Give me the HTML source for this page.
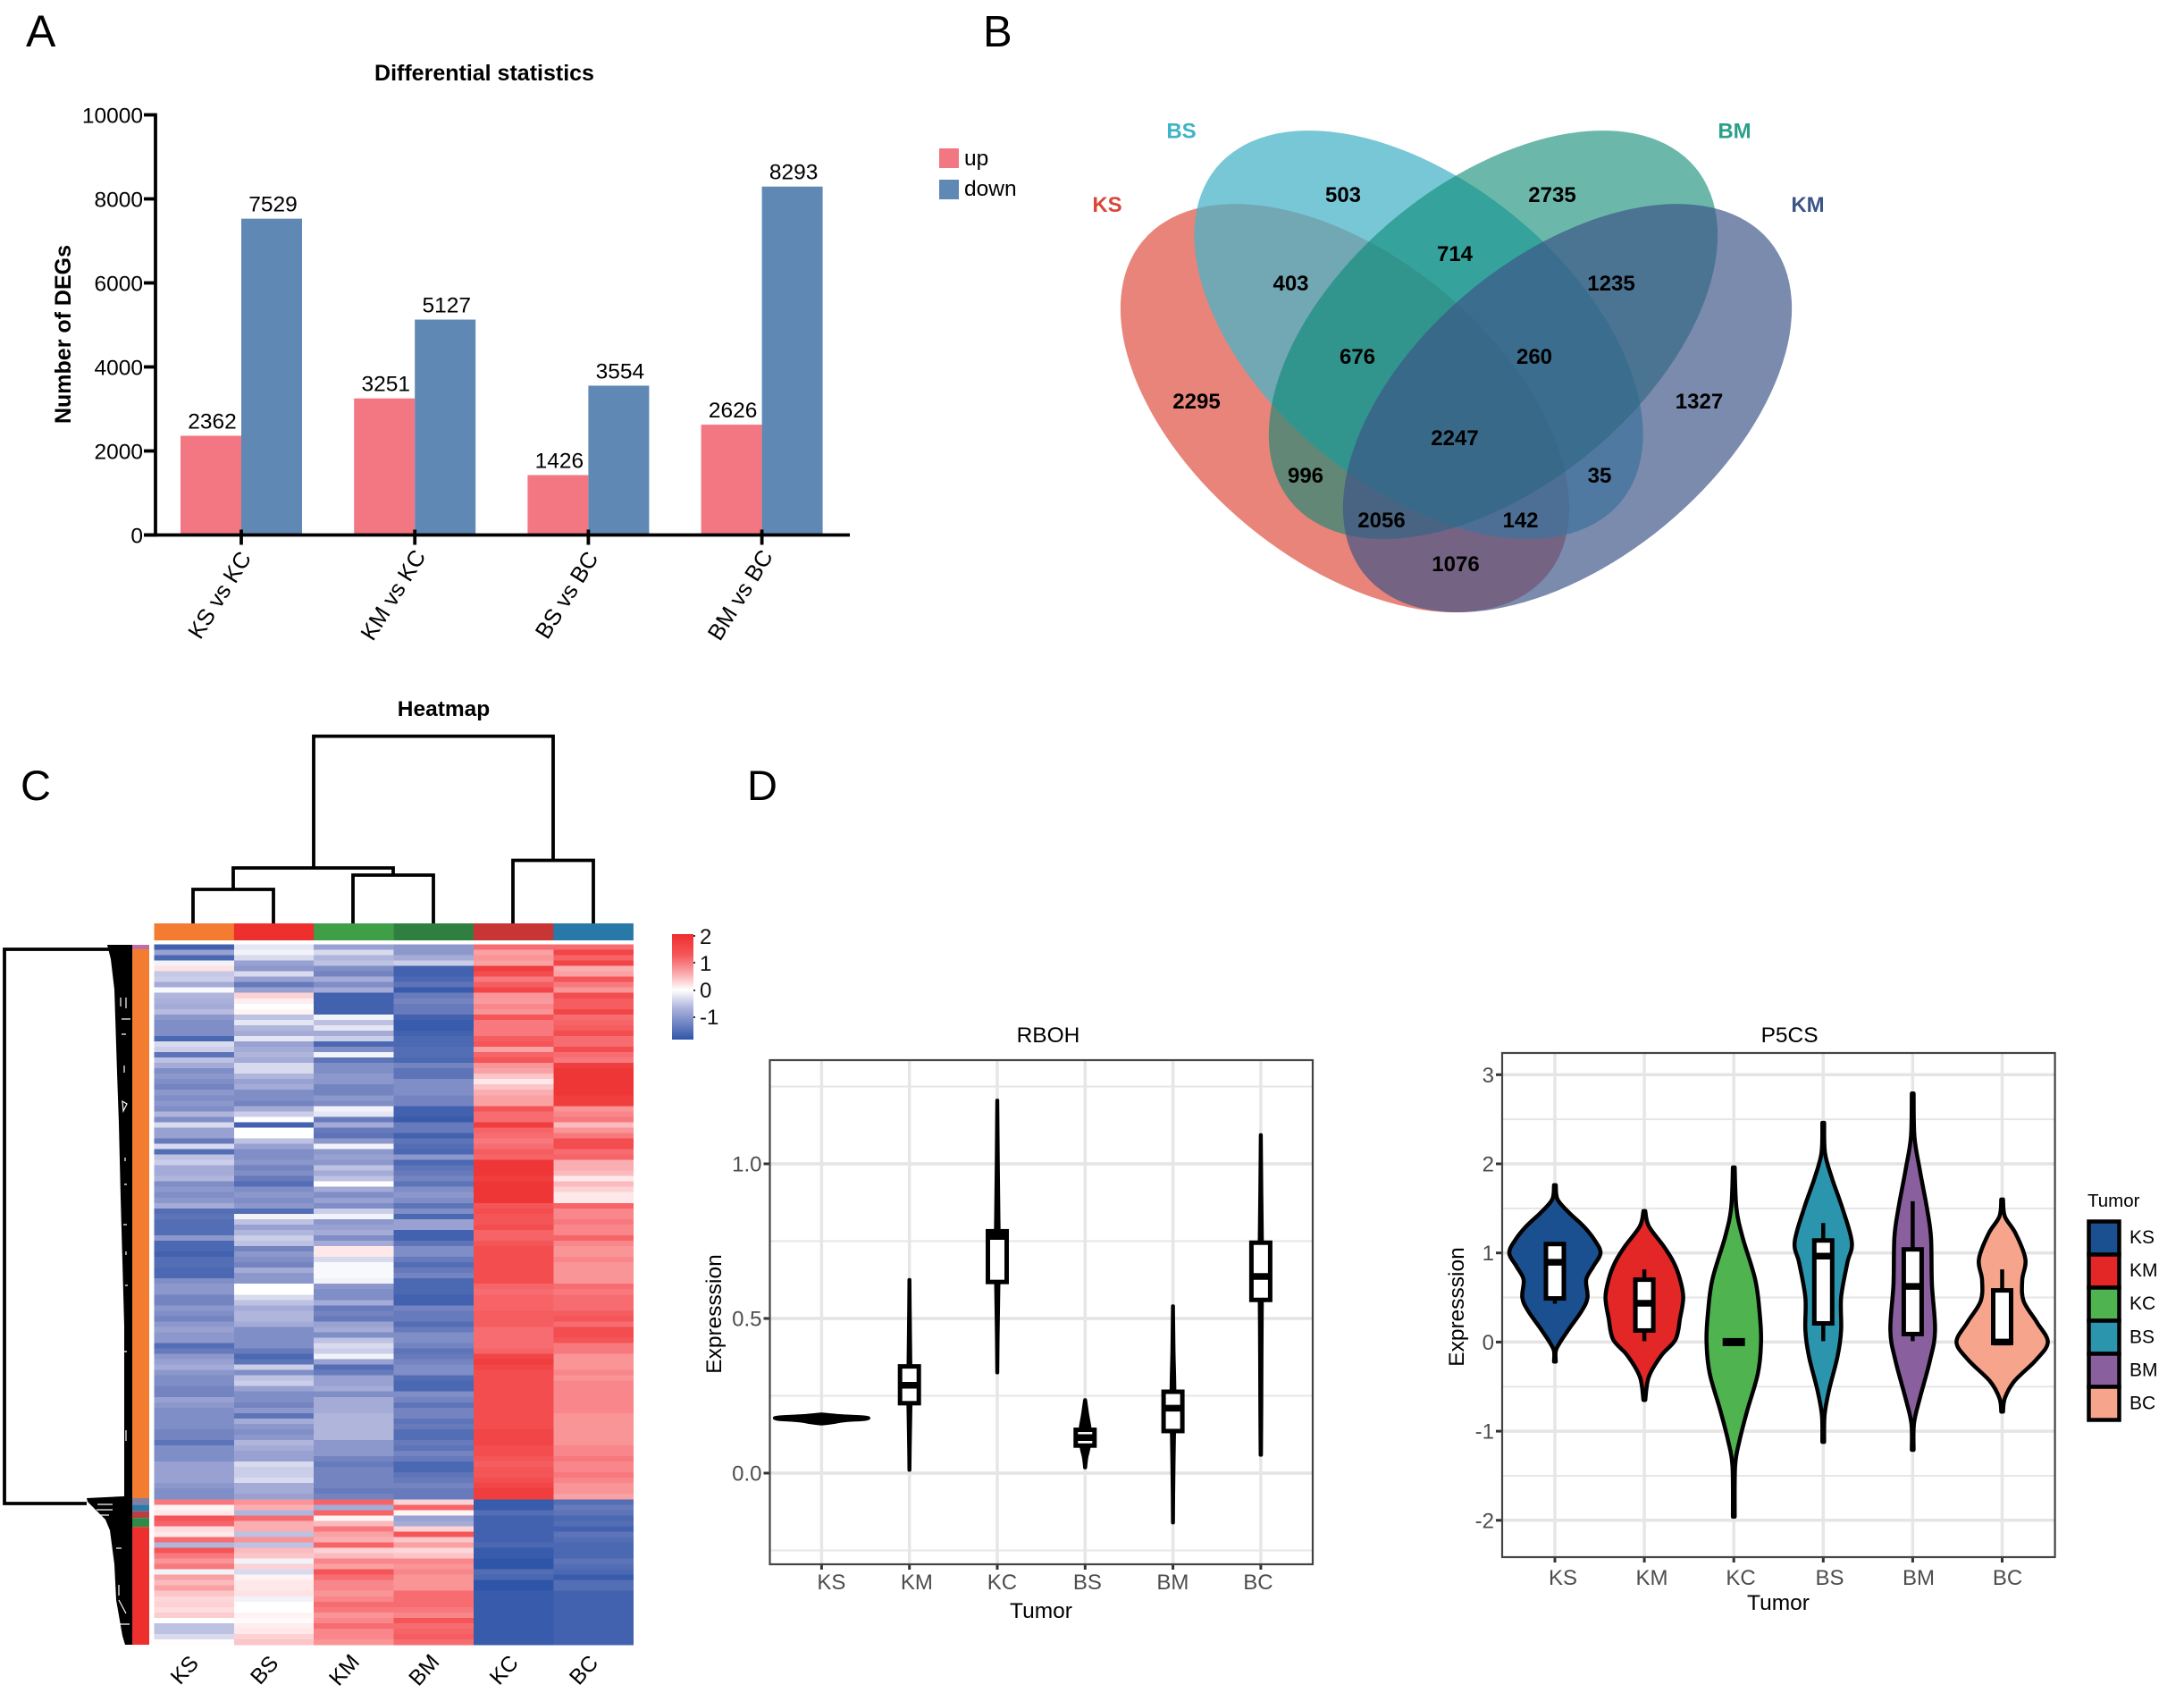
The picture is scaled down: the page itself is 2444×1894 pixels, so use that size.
<!DOCTYPE html>
<html lang="en">
<head>
<meta charset="utf-8">
<title>Differential expression figure</title>
<style>
html,body{margin:0;padding:0;background:#fff;}
svg{display:block;font-family:"Liberation Sans",Arial,sans-serif;}
</style>
</head>
<body>
<svg id="fig" xmlns="http://www.w3.org/2000/svg" width="2444" height="1894" viewBox="0 0 2444 1894">
<defs>
<linearGradient id="cbar" x1="0" y1="0" x2="0" y2="1">
<stop offset="0" stop-color="#ee2e2e"/><stop offset="0.2" stop-color="#f5575a"/><stop offset="0.37" stop-color="#f9a8aa"/><stop offset="0.53" stop-color="#ffffff"/><stop offset="0.7" stop-color="#aeb4dc"/><stop offset="1" stop-color="#2f55a8"/>
</linearGradient>
</defs>
<rect width="2444" height="1894" fill="#fff"/>

<text x="29" y="52" font-size="50">A</text>
<text x="1100" y="52" font-size="49">B</text>
<text x="23" y="895" font-size="47">C</text>
<text x="836" y="895" font-size="47">D</text>

<g id="panelA">
<text x="542" y="90" font-size="25" font-weight="bold" text-anchor="middle">Differential statistics</text>
<text transform="translate(79,374) rotate(-90)" font-size="25" font-weight="bold" text-anchor="middle">Number of DEGs</text>
<rect x="1051" y="166" width="22" height="22" fill="#f37782"/>
<text x="1079" y="185" font-size="24.5">up</text>
<rect x="1051" y="201" width="22" height="22" fill="#5f88b5"/>
<text x="1079" y="219" font-size="24.5">down</text>
</g>

<g id="panelB">
<ellipse cx="1505" cy="456.6" rx="293.5" ry="170.6" transform="rotate(39.5 1505 456.6)" fill="#dd4a3b" fill-opacity="0.68"/>
<ellipse cx="1587.5" cy="374.5" rx="293.5" ry="170.6" transform="rotate(39.5 1587.5 374.5)" fill="#4bb4c8" fill-opacity="0.75"/>
<ellipse cx="1671" cy="374.5" rx="293.5" ry="170.6" transform="rotate(-39.5 1671 374.5)" fill="#088973" fill-opacity="0.6"/>
<ellipse cx="1754" cy="456.6" rx="293.5" ry="170.6" transform="rotate(-39.5 1754 456.6)" fill="#3c5488" fill-opacity="0.68"/>
<g font-size="24" font-weight="bold" text-anchor="middle">
<text x="1239" y="237" fill="#d8483a">KS</text>
<text x="1322" y="154.5" fill="#3fb3c9">BS</text>
<text x="1941" y="154.5" fill="#2b9f8a">BM</text>
<text x="2023" y="237" fill="#3c5488">KM</text>
<text x="1503" y="226">503</text>
<text x="1737" y="226">2735</text>
<text x="1628" y="292">714</text>
<text x="1444.5" y="325">403</text>
<text x="1803" y="325">1235</text>
<text x="1519" y="407">676</text>
<text x="1717" y="407">260</text>
<text x="1339" y="457">2295</text>
<text x="1901.5" y="457">1327</text>
<text x="1628" y="498">2247</text>
<text x="1461" y="540">996</text>
<text x="1790" y="540">35</text>
<text x="1546" y="590">2056</text>
<text x="1701.5" y="590">142</text>
<text x="1629" y="639">1076</text>
</g>
</g>

<g id="panelC">
<text x="496.5" y="801" font-size="24.5" font-weight="bold" text-anchor="middle">Heatmap</text>
<path fill="none" stroke="#000" stroke-width="3.8" d="M351 971V823.6H619V962.5M261 995V971H440V979M216 1033V995H306V1033M395 1033V979H485V1033M574 1033V962.5H664V1033"/>
<path fill="none" stroke="#000" stroke-width="3.8" d="M122 1062H5V1682H97"/>
<path fill="#000" d="M120 1057H148V1676H139V1483L135 1340L133 1257L131 1200L128 1107L124 1073Z"/>
<path fill="#000" d="M97 1676L138 1674H148V1840H140L137 1830L130 1790L128 1750L123 1712L118 1700L103 1685L98 1680Z"/>
<path fill="none" stroke="#fff" stroke-width="1.2" d="M135 1116V1126M141 1116V1128M136 1140H146M136 1157H141M139 1192V1200M137 1232L142 1235L138 1243ZM140 1295V1299M139 1325H142M138 1370H142M141 1400V1404M140 1438H143M138 1512H142M141 1600V1612M109 1683H126M108 1689H126M112 1695H122M130 1732H136M133 1773V1785M133 1790L141 1805M130 1817H145"/>
<g id="heatRows"></g>
<g id="heatTop"></g>
<g>
<rect x="148" y="1057" width="19" height="5" fill="#c070a0"/>
<rect x="148" y="1062" width="19" height="614" fill="#f47c30"/>
<rect x="148" y="1676" width="19" height="7.3" fill="#8080a0"/>
<rect x="148" y="1683.3" width="19" height="7.4" fill="#2e78a8"/>
<rect x="148" y="1690.7" width="19" height="7.6" fill="#b84040"/>
<rect x="148" y="1698.3" width="19" height="10" fill="#2f8a45"/>
<rect x="148" y="1708.3" width="19" height="131.7" fill="#ed2f2e"/>
</g>
<rect x="752" y="1045" width="24" height="118" fill="url(#cbar)"/>
<g font-size="24" fill="#111">
<text x="783" y="1056">2</text>
<text x="783" y="1086">1</text>
<text x="783" y="1116">0</text>
<text x="783" y="1146">-1</text>
</g>
<path stroke="#333" stroke-width="2" d="M776 1047h2M776 1077h2M776 1108h2M776 1138h2"/>
</g>

<g id="panelD"></g>

<script>
// ---- Panel A data ----
const barCategories = ['KS vs KC', 'KM vs KC', 'BS vs BC', 'BM vs BC'];
const barUp = [2362, 3251, 1426, 2626];
const barDown = [7529, 5127, 3554, 8293];
const barTicks = [0, 2000, 4000, 6000, 8000, 10000];

// ---- Panel C data (z-scores, one array per sample column) ----
const heatColumns = ['KS', 'BS', 'KM', 'BM', 'KC', 'BC'];
const heatKS = [-1.6,-.8,-1.5,-.1,.25,-.45,-.4,-.7,-.05,-.6,-.65,-.7,-.55,-.9,-1,-1,-1,-1.5,-.3,-.4,-1.3,-.5,-.7,-1,-.9,-1,-1.1,-.9,-1,-.9,-1,-.6,-1,-.3,-.8,-.8,-1.2,-.3,-1.4,-.5,-.4,-.7,-.7,-.6,-1,-.9,-1,-.9,-.7,-1.4,-1.3,-1.4,-1.4,-1.4,-.9,-1.5,-1.5,-1.6,-1.4,-1.4,-1.5,-1.5,-1,-.9,-.9,-1.1,-1.1,-.9,-1,-1.1,-.9,-.8,-.9,-.9,-1.4,-1.2,-.9,-.8,-.7,-.9,-1,-1,-1.1,-1.1,-.8,-.9,-1,-1,-1,-1,-1.1,-1.1,-1.3,-1,-1,-1,-.8,-.8,-.8,-.8,-.9,-1,-1,1.1,.1,.2,1.5,1.3,.3,.2,1.2,-.6,1.5,1.1,.9,1.1,-.1,.8,.6,.8,.5,.35,.4,.3,.45,0,-.5,-.5,-.3,.03];
const heatBS = [-.2,-.1,-.3,-.8,-.9,-.3,-.8,-1.2,-.8,.4,.15,0,.1,-.5,-.2,-.6,-.7,-.2,-.8,-.7,-.6,-.7,-.3,-.3,-.6,-.8,-.7,-1,-1,-1.1,-.7,-.4,0,-1.6,0,0,-.5,-.8,-1,-1,-.9,-1.1,-1,-1.2,-1.4,-1,-.9,-1,-.9,-1.4,-.1,-.5,-.8,-.6,-.4,-.5,-1.1,-.9,-1,-1.1,-.7,-.9,-.9,0,0,-.3,-.5,-.7,-.6,-.6,-.7,-1,-1,-1,-1,-1.2,-1.5,-1.3,-.4,-1,-.5,-.4,-.8,-1,-1,-1.1,-.9,-1.3,-.7,-.9,-1,-.9,-.6,-.7,-.8,-.8,-.3,-.4,-.4,-.3,-.7,-.7,-.8,.9,.7,-.6,1.2,.7,.7,-.5,.9,-.5,.6,.5,-.1,.4,-.3,.1,.2,.2,.25,-.1,0,0,.1,.05,.15,.2,.4,.5];
const heatKM = [-.8,-.3,-.6,-.5,-1,-1.1,-.7,-1,-.7,-1.6,-1.6,-1.6,-1.6,-.1,-.5,-.2,-.7,-.4,-1.5,-1,-.1,-1.3,-1,-1,-.9,-.9,-1.1,-1.1,-.9,-1,-.1,-.2,-1.2,-.7,-1.2,-1.3,-.9,-.1,-.9,-.8,-.9,-.5,-.7,-.5,0,-.7,-1,-.8,-1,-.4,-.1,-.9,-.8,-.7,-1,-.7,.2,.2,-.3,-.05,-.05,-.05,-.1,-.9,-1,-1,-.7,-1.2,-1.1,-1.2,-.8,-.7,-1,-.5,-.3,-.4,-.1,-.8,-1.4,-1.2,-.8,-.8,-.7,-1,-.7,-.7,-.7,-.6,-.6,-.6,-.6,-.6,-.9,-.9,-.9,-1.1,-1.2,-1.1,-1.1,-1.1,-1.1,-1.2,-1.1,1.3,-.7,1.3,.1,.6,1.1,.8,.7,1.3,.4,.6,1,.8,1.5,1.2,1,1,.9,1,1.2,1.1,.9,1,1.2,1,1,.9];
const heatBM = [-.9,-.9,-.7,-.4,-1.6,-1.6,-1.5,-1.3,-1.7,-1.2,-1.1,-1.2,-1.2,-1.6,-1.7,-1.7,-1.6,-1.5,-1.5,-1.4,-1.4,-1.5,-1.1,-1.3,-1.3,-1,-1,-1,-1.1,-1.1,-1.6,-1.6,-1.7,-1.2,-1.2,-1.6,-1.3,-1.4,-1.5,-.9,-1.5,-1.3,-1.2,-1.1,-1.3,-1,-.9,-1,-1.3,-1,-1.5,-.8,-.8,-1.6,-1.6,-1.3,-1,-1,-1.2,-1.4,-1.2,-1.1,-1.5,-1.5,-1.5,-1.6,-1.6,-1.1,-1.2,-1.2,-1.4,-1.2,-1,-1,-1.1,-1.3,-1.2,-1.1,-1,-1,-1.4,-1.5,-1.5,-1,-1.1,-1.3,-1.1,-1.1,-1.3,-1.2,-1.4,-1.4,-1.2,-1.3,-1.1,-1.2,-1.5,-1.5,-1.3,-1.2,-1.1,-1.2,-1.2,.4,1.3,.1,-.8,-.7,.4,1.5,.5,.8,.35,.5,1,.9,1,.9,.9,.9,1.2,1.2,1.2,1.1,1,1.5,1.2,1.3,1.4,1.2];
const heatKC = [1.2,.8,.9,.8,1.8,1.6,1.1,1.4,1.7,.9,.85,1,.9,1.5,1.1,1.1,1.1,1.4,1.5,.8,1.3,1.5,.9,.8,.5,.2,.5,.7,.8,.8,1.5,1.2,1.2,1.8,1.3,1.2,1.1,1.2,1.4,1.3,1.9,1.9,1.9,1.8,1.9,1.9,1.9,1.9,1.5,1.6,1.5,1.5,1.6,1.3,1.3,1.5,1.6,1.6,1.6,1.6,1.6,1.6,1.6,1.3,1.2,1.3,1.3,1.3,1.4,1.4,1.4,1.2,1.2,1.2,1.2,1.3,1.7,1.8,1.7,1.6,1.6,1.6,1.6,1.6,1.6,1.6,1.6,1.6,1.6,1.6,1.7,1.7,1.7,1.6,1.6,1.5,1.4,1.5,1.5,1.6,1.7,1.8,1.8,-1.7,-1.7,-1.4,-1.6,-1.6,-1.6,-1.6,-1.6,-1.5,-1.7,-1.7,-1.8,-1.8,-1.4,-1.5,-1.8,-1.8,-1.7,-1.7,-1.7,-1.7,-1.7,-1.7,-1.7,-1.7,-1.7,-1.7];
const heatBC = [1.2,1.7,1.3,1.7,.7,.8,1.5,1.1,.9,1.6,1.4,1.4,1.7,1.2,1.3,1.4,1.6,1.2,1.2,1.6,1.2,1.1,1.8,1.9,1.9,1.9,1.9,1.9,1.8,1.8,.9,1,1.1,.6,.9,1.1,1.6,1.6,1.2,1.3,.7,.7,.6,.2,.6,.4,.2,.2,1.3,1,1,1.1,1,1,1.3,1,.9,.9,1,.9,.9,.9,.9,1.2,1.1,1.2,1.2,1.2,1.4,1.5,1.2,1.6,1.6,1.5,1.1,1.1,.9,.9,.9,1,.9,1,1,1,1,1,1,.9,.9,.9,.9,.9,.9,1,1,1.1,1,1,1.1,1,.9,.9,.8,-1.4,-1.2,-1.3,-1.5,-1.4,-1.6,-1.3,-1.4,-1.5,-1.5,-1.5,-1.3,-1.4,-1.5,-1.7,-1.4,-1.4,-1.6,-1.6,-1.6,-1.6,-1.6,-1.6,-1.6,-1.6,-1.6,-1.6];
const heatColorStops = [-1.8, -1.2, -0.6, 0, 0.6, 1.2, 2];
const heatColorRGB = [[47,85,168],[103,122,187],[176,181,220],[255,255,255],[251,187,190],[247,108,112],[238,46,46]];

// ---- Panel D data ----
const tumorGroups = ['KS', 'KM', 'KC', 'BS', 'BM', 'BC'];
const tumorColors = ['#1a5090', '#e32626', '#4fb34f', '#2b95ae', '#8a5f9e', '#f6a58c'];

const rbohYTicks = [0, 0.5, 1];
const rbohMinor = [-0.25, 0.25, 0.75, 1.25];
const rbohQ1 = [0.177, 0.226, 0.618, 0.089, 0.136, 0.56];
const rbohMedian = [0.177, 0.284, 0.765, 0.115, 0.21, 0.636];
const rbohQ3 = [0.177, 0.345, 0.782, 0.14, 0.263, 0.745];
const rbohLevelsKS = [0.19, 0.185, 0.18, 0.175, 0.17, 0.165, 0.16];
const rbohWidthKS = [0.01, 0.2, 0.5, 0.5, 0.25, 0.15, 0.01];
const rbohLevelsKM = [0.625, 0.5, 0.35, 0.28, 0.2, 0.1, 0.01];
const rbohWidthKM = [0.002, 0.006, 0.012, 0.018, 0.012, 0.006, 0.002];
const rbohLevelsKC = [1.205, 1.0, 0.85, 0.75, 0.6, 0.45, 0.325];
const rbohWidthKC = [0.002, 0.008, 0.014, 0.018, 0.014, 0.006, 0.002];
const rbohLevelsBS = [0.236, 0.19, 0.15, 0.115, 0.08, 0.05, 0.018];
const rbohWidthBS = [0.002, 0.025, 0.05, 0.055, 0.04, 0.015, 0.002];
const rbohLevelsBM = [0.54, 0.4, 0.3, 0.2, 0.1, -0.05, -0.16];
const rbohWidthBM = [0.002, 0.008, 0.016, 0.02, 0.012, 0.005, 0.002];
const rbohLevelsBC = [1.093, 0.9, 0.75, 0.65, 0.5, 0.25, 0.059];
const rbohWidthBC = [0.002, 0.008, 0.014, 0.016, 0.012, 0.008, 0.004];

const p5csYTicks = [-2, -1, 0, 1, 2, 3];
const p5csMinor = [-1.5, -0.5, 0.5, 1.5, 2.5];
const p5csQ1 = [0.49, 0.13, -0.02, 0.21, 0.09, -0.01];
const p5csMedian = [0.895, 0.435, 0, 0.965, 0.625, 0];
const p5csQ3 = [1.10, 0.70, 0.02, 1.14, 1.04, 0.58];
const p5csWhiskerLow = [0.43, 0.01, 0, 0.01, 0.01, 0];
const p5csWhiskerHigh = [1.10, 0.815, 0, 1.335, 1.58, 0.815];
const p5csLevelsKS = [1.76, 1.6, 1.45, 1.3, 1.15, 1.0, 0.85, 0.7, 0.5, 0.35, 0.15, 0, -0.1, -0.22];
const p5csWidthKS = [0.01, 0.03, 0.16, 0.32, 0.44, 0.51, 0.43, 0.35, 0.365, 0.30, 0.16, 0.06, 0.01, 0.01];
const p5csLevelsKM = [1.47, 1.3, 1.07, 0.89, 0.7, 0.5, 0.27, 0.03, -0.15, -0.39, -0.65];
const p5csWidthKM = [0.01, 0.05, 0.22, 0.33, 0.40, 0.435, 0.40, 0.35, 0.19, 0.05, 0.01];
const p5csLevelsKC = [1.96, 1.5, 1.17, 0.7, 0.32, 0, -0.35, -0.77, -1.1, -1.39, -1.96];
const p5csWidthKC = [0.01, 0.03, 0.10, 0.24, 0.29, 0.305, 0.27, 0.15, 0.065, 0.015, 0.01];
const p5csLevelsBS = [2.46, 2.12, 1.83, 1.5, 1.12, 0.89, 0.5, 0.13, -0.16, -0.54, -0.82, -1.12];
const p5csWidthBS = [0.01, 0.02, 0.10, 0.215, 0.32, 0.27, 0.20, 0.20, 0.16, 0.065, 0.015, 0.01];
const p5csLevelsBM = [2.79, 2.3, 1.93, 1.5, 1.17, 0.65, 0.13, -0.2, -0.63, -0.91, -1.21];
const p5csWidthBM = [0.01, 0.02, 0.08, 0.16, 0.205, 0.215, 0.25, 0.195, 0.08, 0.015, 0.01];
const p5csLevelsBC = [1.6, 1.41, 1.22, 0.93, 0.7, 0.46, 0.22, 0, -0.2, -0.44, -0.63, -0.78];
const p5csWidthBC = [0.01, 0.03, 0.15, 0.26, 0.225, 0.24, 0.39, 0.51, 0.38, 0.135, 0.03, 0.01];

const NS = 'http://www.w3.org/2000/svg';
function mk(tag, attrs, parent, txt) {
  const el = document.createElementNS(NS, tag);
  for (const k in attrs) el.setAttribute(k, attrs[k]);
  if (txt !== undefined) el.textContent = txt;
  parent.appendChild(el);
  return el;
}

// ---- Panel A ----
(function () {
  const g = document.getElementById('panelA');
  const base = 598.5;
  const yA = v => base - v * 0.047;
  const groupX = i => 270 + i * 194.2;
  const barW = 68;
  barCategories.forEach((c, i) => {
    const cx = groupX(i);
    const up = mk('rect', {x: cx - barW, y: yA(barUp[i]), width: barW, height: base - yA(barUp[i]), fill: '#f37782'}, g);
    
    
    const dn = mk('rect', {x: cx, y: yA(barDown[i]), width: barW, height: base - yA(barDown[i]), fill: '#5f88b5'}, g);
    
    
    const t1 = mk('text', {x: cx - barW / 2 + 1.5, y: yA(barUp[i]) - 8, 'font-size': 24.5, 'text-anchor': 'middle'}, g, barUp[i]);
    
    
    const t2 = mk('text', {x: cx + barW / 2 + 1.5, y: yA(barDown[i]) - 8, 'font-size': 24.5, 'text-anchor': 'middle'}, g, barDown[i]);
    
    
    const tk = mk('line', {x1: cx, x2: cx, y1: base - 6, y2: base + 11, stroke: '#000', 'stroke-width': 3.8}, g);
    
    
    const lb = mk('text', {transform: 'translate(' + (cx - 24.5) + ',665.5) rotate(-58)', 'font-size': 25.5, 'text-anchor': 'middle', dy: '.35em'}, g, c);
    
    
  });
  barTicks.forEach(v => {
    const tk = mk('line', {x1: 161, x2: 173, y1: yA(v), y2: yA(v), stroke: '#000', 'stroke-width': 3.8}, g);
    
    
    const lb = mk('text', {x: 160, y: yA(v) + 9, 'font-size': 24.5, 'text-anchor': 'end'}, g, v);
    
    
  });
  const ya = mk('line', {x1: 174, x2: 174, y1: yA(10000) - 1.9, y2: base + 1.9, stroke: '#000', 'stroke-width': 3.8}, g);
  
  
  const xa = mk('line', {x1: 161, x2: 951, y1: base, y2: base, stroke: '#000', 'stroke-width': 3.8}, g);
  
  
})();

// ---- Panel C ----
(function () {
  const g = document.getElementById('heatRows');
  const top = document.getElementById('heatTop');
  const parent = document.getElementById('panelC');
  const cols = [heatKS, heatBS, heatKM, heatBM, heatKC, heatBC];
  const annot = ['#f47c30', '#ed2f2e', '#3f9f47', '#2f8040', '#c73535', '#2878a8'];
  const colX = i => 172.5 + i * 89.35;
  const colW = 89.35;
  const rowY = (r, n) => 1056.5 + r * (1840 - 1056.5) / n;
  function color(v) {
    const s = heatColorStops;
    if (v <= s[0]) return 'rgb(' + heatColorRGB[0].join(',') + ')';
    for (let i = 1; i < s.length; i++) {
      if (v <= s[i]) {
        const t = (v - s[i - 1]) / (s[i] - s[i - 1]);
        const a = heatColorRGB[i - 1], b = heatColorRGB[i];
        return 'rgb(' + a.map((c, k) => Math.round(c + (b[k] - c) * t)).join(',') + ')';
      }
    }
    return 'rgb(' + heatColorRGB[s.length - 1].join(',') + ')';
  }
  cols.forEach((col, c) => {
    col.forEach((v, r) => {
      const y0 = rowY(r, col.length), y1 = rowY(r + 1, col.length);
      const cell = mk('rect', {x: colX(c), y: y0, width: colW + 0.3, height: y1 - y0 + 0.4, fill: color(v), 'shape-rendering': 'crispEdges'}, g);
      
      
    });
    const a = mk('rect', {x: colX(c), y: 1033, width: colW + 0.3, height: 19, fill: annot[c]}, top);
    
    
    const lb = mk('text', {transform: 'translate(' + (colX(c) + colW / 2 - 11) + ',1868) rotate(-48)', 'font-size': 24.5, 'text-anchor': 'middle', dy: '.35em'}, parent, heatColumns[c]);
    
    
  });
})();

// ---- Panel D ----
(function () {
  const g = document.getElementById('panelD');
  function smooth(pts) {
    let d = '';
    for (let i = 0; i < pts.length - 1; i++) {
      const p0 = pts[Math.max(i - 1, 0)], p1 = pts[i], p2 = pts[i + 1], p3 = pts[Math.min(i + 2, pts.length - 1)];
      d += 'C' + (p1[0] + (p2[0] - p0[0]) / 6).toFixed(1) + ' ' + (p1[1] + (p2[1] - p0[1]) / 6).toFixed(1) + ' ' +
           (p2[0] - (p3[0] - p1[0]) / 6).toFixed(1) + ' ' + (p2[1] - (p3[1] - p1[1]) / 6).toFixed(1) + ' ' +
           p2[0].toFixed(1) + ' ' + p2[1].toFixed(1);
    }
    return d;
  }
  function violinPlot(cfg) {
    const y = cfg.y, x = i => cfg.x0 + i * cfg.band;
    const wrap = mk('g', {}, g);
    
    
    const title = mk('text', {x: cfg.titleX, y: 1166, 'font-size': 24.5, 'text-anchor': 'middle'}, wrap, cfg.name);
    
    
    cfg.minor.forEach(v => {
      const l = mk('line', {x1: cfg.left, x2: cfg.right, y1: y(v), y2: y(v), stroke: '#e6e6e6', 'stroke-width': 2}, wrap);
      
      
    });
    cfg.ticks.forEach(v => {
      const l = mk('line', {x1: cfg.left, x2: cfg.right, y1: y(v), y2: y(v), stroke: '#e4e4e4', 'stroke-width': 3.5}, wrap);
      
      
      const t = mk('line', {x1: cfg.left - 7, x2: cfg.left, y1: y(v), y2: y(v), stroke: '#333', 'stroke-width': 3}, wrap);
      
      
      const lb = mk('text', {x: cfg.left - 9, y: y(v) + 8.5, 'font-size': cfg.tickFont, fill: '#4d4d4d', 'text-anchor': 'end'}, wrap, cfg.fmt(v));
      
      
    });
    tumorGroups.forEach((n, i) => {
      const l = mk('line', {x1: x(i), x2: x(i), y1: cfg.top, y2: cfg.bottom, stroke: '#e6e6e6', 'stroke-width': 3.5}, wrap);
      
      
      const t = mk('line', {x1: x(i), x2: x(i), y1: cfg.bottom, y2: cfg.bottom + 6, stroke: '#333', 'stroke-width': 3}, wrap);
      
      
      const lb = mk('text', {x: x(i) + cfg.labelShift(i), y: cfg.bottom + cfg.labelDrop, 'font-size': cfg.tickFont, fill: '#4d4d4d', 'text-anchor': 'middle'}, wrap, n);
      
      
    });
    const frame = mk('rect', {x: cfg.left, y: cfg.top, width: cfg.right - cfg.left, height: cfg.bottom - cfg.top, fill: 'none', stroke: '#444', 'stroke-width': 2.2}, wrap);
    
    
    tumorGroups.forEach((n, i) => {
      const lv = cfg.levels[i], wd = cfg.widths[i];
      const right = lv.map((v, k) => [x(i) + wd[k] * cfg.band, y(v)]);
      const left = lv.map((v, k) => [x(i) - wd[k] * cfg.band, y(v)]).reverse();
      const d = 'M' + right[0][0].toFixed(1) + ' ' + right[0][1].toFixed(1) + smooth(right) + 'L' + left[0][0].toFixed(1) + ' ' + left[0][1].toFixed(1) + smooth(left) + 'Z';
      const v = mk('path', {d: d, fill: cfg.fill ? tumorColors[i] : '#000', stroke: '#000', 'stroke-width': cfg.sw, 'stroke-linejoin': 'round'}, wrap);
      
      
      if (cfg.whiskLow) {
        const wl = mk('line', {x1: x(i), x2: x(i), y1: y(cfg.whiskLow[i]), y2: y(cfg.whiskHigh[i]), stroke: '#000', 'stroke-width': 4.5}, wrap);
        
        
      }
      if (cfg.q3[i] > cfg.q1[i]) {
        const b = mk('rect', {x: x(i) - cfg.boxHalf, y: y(cfg.q3[i]), width: cfg.boxHalf * 2, height: y(cfg.q1[i]) - y(cfg.q3[i]), fill: '#fff', stroke: '#000', 'stroke-width': 5}, wrap);
        
        
        const m = mk('line', {x1: x(i) - cfg.boxHalf, x2: x(i) + cfg.boxHalf, y1: y(cfg.median[i]), y2: y(cfg.median[i]), stroke: '#000', 'stroke-width': 7.5}, wrap);
        
        
      }
    });
    const xt = mk('text', {x: cfg.xTitleX, y: cfg.xTitleY, 'font-size': 24.5, 'text-anchor': 'middle'}, wrap, 'Tumor');
    
    
    const yt = mk('text', {transform: 'translate(' + cfg.yTitleX + ',' + cfg.yTitleY + ') rotate(-90)', 'font-size': 24.5, 'text-anchor': 'middle'}, wrap, 'Expresssion');
    
    
  }

  violinPlot({
    name: 'RBOH', y: v => 1648 - v * 346, x0: 919.4, band: 98.3, left: 861.5, right: 1469, top: 1186, bottom: 1750,
    titleX: 1173, minor: rbohMinor, ticks: rbohYTicks, tickFont: 24, fmt: v => v.toFixed(1), labelShift: i => 11 - i * 2.8, labelDrop: 28,
    levels: [rbohLevelsKS, rbohLevelsKM, rbohLevelsKC, rbohLevelsBS, rbohLevelsBM, rbohLevelsBC],
    widths: [rbohWidthKS, rbohWidthKM, rbohWidthKC, rbohWidthBS, rbohWidthBM, rbohWidthBC],
    fill: false, sw: 4, boxHalf: 10.5, q1: rbohQ1, median: rbohMedian, q3: rbohQ3,
    xTitleX: 1165, xTitleY: 1810, yTitleX: 807, yTitleY: 1470
  });

  violinPlot({
    name: 'P5CS', y: v => 1501.4 - v * 99.7, x0: 1740, band: 100.1, left: 1681, right: 2299.6, top: 1178, bottom: 1742,
    titleX: 2002.6, minor: p5csMinor, ticks: p5csYTicks, tickFont: 24, fmt: v => String(v), labelShift: i => 9 - i * 0.6, labelDrop: 31,
    levels: [p5csLevelsKS, p5csLevelsKM, p5csLevelsKC, p5csLevelsBS, p5csLevelsBM, p5csLevelsBC],
    widths: [p5csWidthKS, p5csWidthKM, p5csWidthKC, p5csWidthBS, p5csWidthBM, p5csWidthBC],
    fill: true, sw: 4.5, boxHalf: 10, q1: p5csQ1, median: p5csMedian, q3: p5csQ3, whiskLow: p5csWhiskerLow, whiskHigh: p5csWhiskerHigh,
    xTitleX: 1990, xTitleY: 1801, yTitleX: 1638, yTitleY: 1462
  });

  // legend
  const lg = mk('g', {}, g);
  
  
  const lt = mk('text', {x: 2336, y: 1350, 'font-size': 20.5}, lg, 'Tumor');
  
  
  tumorGroups.forEach((n, i) => {
    const k = mk('rect', {x: 2337.5, y: 1366.5 + i * 37, width: 34, height: 37, fill: tumorColors[i], stroke: '#000', 'stroke-width': 4.5}, lg);
    
    
    const lb = mk('text', {x: 2383, y: 1391 + i * 37.1, 'font-size': 21}, lg, n);
    
    
  });
})();
</script>
</svg>
</body>
</html>
